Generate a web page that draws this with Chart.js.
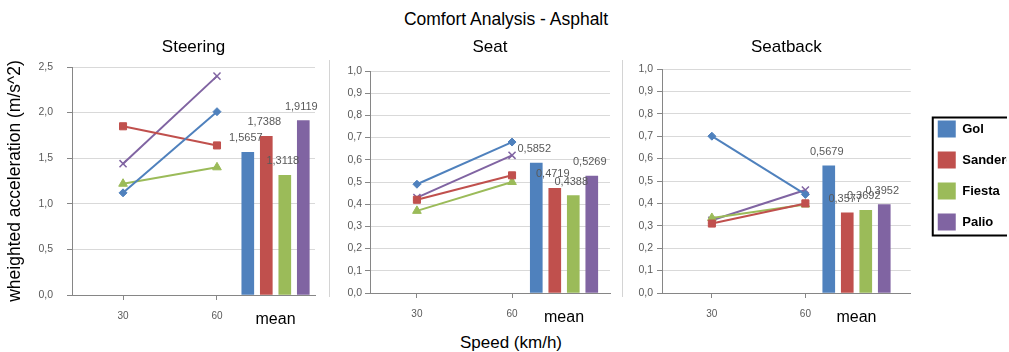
<!DOCTYPE html>
<html>
<head>
<meta charset="utf-8">
<script src="https://cdn.jsdelivr.net/npm/chart.js@4.4.1/dist/chart.umd.min.js"></script>
<style>
  body { margin: 0; width: 1009px; height: 352px; overflow: hidden; background: #fff; position: relative;
         font-family: "Liberation Sans", Arial, sans-serif; }
  canvas { position: absolute; top: 0; }
  .sep { position: absolute; top: 60px; height: 237px; width: 1px; background: #d4d4d4; }
  .txt { position: absolute; text-align: center; color: #000; white-space: nowrap; }
</style>
</head>
<body>
<div class="txt" style="left:0;width:1012px;top:9px;font-size:17.5px;line-height:20px">Comfort Analysis - Asphalt</div>
<div class="txt" style="left:0;width:1022px;top:333px;font-size:17px;line-height:20px">Speed (km/h)</div>
<div class="sep" style="left:329px"></div>
<div class="sep" style="left:622px"></div>
<canvas id="steering" width="330" height="352" style="left:0"></canvas>
<canvas id="seat" width="292" height="352" style="left:330px"></canvas>
<canvas id="seatback" width="385" height="352" style="left:622px"></canvas>
<script>
// values
const speeds = [30, 60];
const cars = ['Gol', 'Sandero', 'Fiesta', 'Palio'];

const steering30 = [1.12, 1.85, 1.22, 1.44];
const steering60 = [2.01, 1.64, 1.40, 2.40];
const steeringMean = [1.5657, 1.7388, 1.3118, 1.9119];

const seat30 = [0.49, 0.42, 0.37, 0.43];
const seat60 = [0.68, 0.53, 0.50, 0.62];
const seatMean = [0.5852, 0.4719, 0.4388, 0.5269];

const seatback30 = [0.70, 0.31, 0.335, 0.325];
const seatback60 = [0.44, 0.40, 0.395, 0.46];
const seatbackMean = [0.5679, 0.3577, 0.3692, 0.3952];

const colors = ['#4F81BD', '#C0504D', '#9BBB59', '#8064A2'];
const markers = ['rectRot', 'rect', 'triangle', 'crossRot'];
const FONT = '"Liberation Sans", Arial, sans-serif';

const panels = [
  { id: 'steering', title: 'Steering', at: [steering30, steering60], mean: steeringMean, yMax: 2.5, yStep: 0.5,
    axisW: 72, padRight: 15, top: 67, bottom: 295, xMin: 13.7, xMax: 91.3, meanAt: 78.7, tickPad: 14 },
  { id: 'seat', title: 'Seat', at: [seat30, seat60], mean: seatMean, yMax: 1, yStep: 0.1,
    axisW: 40, padRight: 12, top: 71, bottom: 293, xMin: 15.2, xMax: 90.9, meanAt: 76.4, tickPad: 3 },
  { id: 'seatback', title: 'Seatback', at: [seatback30, seatback60], mean: seatbackMean, yMax: 1, yStep: 0.1,
    axisW: 40, padRight: 0, top: 69, bottom: 293, xMin: 14.0, xMax: 93.8, meanAt: 76.4, tickPad: 4, legend: true }
];

const comma = (v, d) => Number(v).toFixed(d).replace('.', ',');

// value labels above the mean bars
const meanLabels = {
  id: 'meanLabels',
  afterDatasetsDraw(chart) {
    const ctx = chart.ctx;
    ctx.save();
    ctx.font = '11px ' + FONT;
    ctx.fillStyle = '#595959';
    ctx.textAlign = 'center';
    ctx.textBaseline = 'middle';
    chart.data.datasets.forEach((ds, i) => {
      if (ds.type !== 'bar') return;
      chart.getDatasetMeta(i).data.forEach((bar, k) => {
        ctx.fillText(comma(ds.data[k].y, 4), bar.x - 2, bar.y - 14);
      });
    });
    ctx.restore();
  }
};

// nudge legend and frame it like the spreadsheet legend
const legendBox = {
  id: 'legendBox',
  afterLayout(chart) {
    if (!chart.options.plugins.legend.display) return;
    chart.legend.left += 13;
    chart.legend.top -= 1;
  },
  afterDraw(chart) {
    if (!chart.options.plugins.legend.display) return;
    const boxes = chart.legend.legendHitBoxes;
    const x0 = Math.min(...boxes.map(b => b.left));
    const y0 = Math.min(...boxes.map(b => b.top));
    const y1 = Math.max(...boxes.map(b => b.top + b.height));
    const ctx = chart.ctx;
    ctx.save();
    ctx.strokeStyle = '#000';
    ctx.lineWidth = 2;
    ctx.strokeRect(x0 - 5, y0 - 3, 200, y1 - y0 + 8);
    ctx.restore();
  }
};

panels.forEach(p => {
  const datasets = [];
  cars.forEach((car, i) => {
    datasets.push({
      type: 'line', label: car,
      data: speeds.map((s, k) => ({ x: s, y: p.at[k][i] })),
      borderColor: colors[i], backgroundColor: colors[i], borderWidth: 2,
      pointStyle: markers[i], pointRadius: i === 0 ? 4 : 5, pointBorderWidth: i === 3 ? 1.5 : 1
    });
  });
  cars.forEach((car, i) => {
    datasets.push({
      type: 'bar', label: car,
      data: [{ x: p.meanAt, y: p.mean[i] }],
      backgroundColor: colors[i], borderWidth: 0,
      barThickness: 18.5, maxBarThickness: 12
    });
  });

  new Chart(document.getElementById(p.id), {
    type: 'line',
    data: { datasets },
    options: {
      responsive: false,
      animation: false,
      layout: { padding: { left: 0, right: p.padRight, top: 0, bottom: 0 } },
      plugins: {
        title: {
          display: true, text: p.title, fullSize: false,
          font: { family: FONT, size: 17, weight: 'normal' }, color: '#000',
          padding: { top: 36.8, bottom: p.top - 57.2 }
        },
        legend: {
          display: !!p.legend, position: 'right',
          labels: {
            filter: (item, data) => data.datasets[item.datasetIndex].type === 'bar',
            boxWidth: 18, boxHeight: 17, padding: 14, color: '#000',
            font: { family: FONT, size: 13, weight: 'bold' }
          }
        },
        tooltip: { enabled: false }
      },
      scales: {
        x: {
          type: 'linear', min: p.xMin, max: p.xMax, offset: false,
          afterBuildTicks: s => { s.ticks = speeds.concat([p.meanAt]).map(v => ({ value: v })); },
          afterFit: s => { s.height = 352 - p.bottom; },
          ticks: {
            autoSkip: false, maxRotation: 0, padding: 10,
            callback: v => (v === p.meanAt ? 'mean' : String(v)),
            font: c => (c.tick && c.tick.value === p.meanAt ? { family: FONT, size: 16 } : { family: FONT, size: 10 }),
            color: c => (c.tick && c.tick.value === p.meanAt ? '#000' : '#595959')
          },
          grid: {
            drawOnChartArea: false, drawTicks: true, tickLength: 5, offset: false,
            tickColor: c => (c.tick && c.tick.value === p.meanAt ? 'rgba(0,0,0,0)' : '#868686')
          },
          border: { color: '#868686' }
        },
        y: {
          min: 0, max: p.yMax,
          afterFit: s => { s.width = p.axisW; },
          ticks: {
            stepSize: p.yStep, padding: p.tickPad, color: '#595959',
            font: { family: FONT, size: 10.5 },
            callback: v => comma(v, 1)
          },
          grid: { color: '#d9d9d9', tickColor: '#868686', tickLength: 5 },
          border: { color: '#868686' },
          title: {
            display: p.id === 'steering', text: 'wheighted acceleration (m/s^2)',
            font: { family: FONT, size: 17.5 }, color: '#000', padding: { top: 4.5, bottom: 0 }
          }
        }
      }
    },
    plugins: [meanLabels, legendBox]
  });
});
</script>
</body>
</html>
